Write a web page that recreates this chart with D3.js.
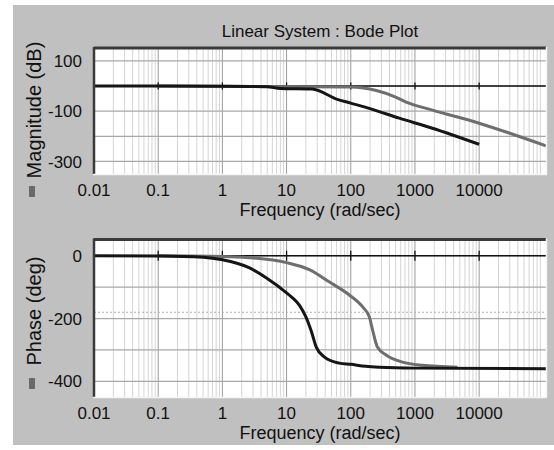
<!DOCTYPE html>
<html>
<head>
<meta charset="utf-8">
<script src="https://cdn.jsdelivr.net/npm/d3@7"></script>
<style>
  body { margin: 0; background: #fff; }
  svg { display: block; font-family: "Liberation Sans", Arial, sans-serif; }
</style>
</head>
<body>
<svg id="bode"></svg>
<script>
// Bode plot: magnitude (dB) and phase (deg) of two linear systems

const width = 554;
const height = 450;

const freqTicks = [0.01, 0.1, 1, 10, 100, 1000, 10000];
const freqTickLabels = ["0.01", "0.1", "1", "10", "100", "1000", "10000"];
const magTicks = [100, -100, -300];
const magGrid = [100, 0, -100, -200, -300];
const phaseTicks = [0, -200, -400];
const phaseGrid = [0, -100, -200, -300, -400];

// black system
const magBlackFreq = [0.01, 1, 5, 8, 25, 60, 100, 200, 570, 1870, 10000];
const magBlack     = [0, -1, -3, -10, -12, -52, -68, -90, -128, -168, -232];
const phaseBlackFreq = [0.01, 0.1, 0.5, 1, 2.6, 4.8, 10, 12.5, 15.8, 20, 24, 29, 39, 66, 100, 170, 280, 1000, 110000];
const phaseBlack     = [0, -1, -5, -13, -38, -70, -118, -135, -157, -195, -237, -291, -323, -342, -346, -352, -355, -358, -360];

// gray system
const magGrayFreq = [0.1, 100, 250, 500, 730, 1870, 10000, 30000, 110000];
const magGray     = [0, -4, -18, -44, -64, -96, -148, -188, -238];
const phaseGrayFreq = [0.1, 1, 2.6, 10, 23, 46, 95, 153, 195, 219, 260, 360, 640, 1300, 4600];
const phaseGray     = [0, -2, -6, -22, -45, -83, -125, -163, -195, -237, -291, -317, -339, -349, -355];

const svg = d3.select("#bode")
    .attr("width", width)
    .attr("height", height);

svg.append("rect")
    .attr("x", 13).attr("y", 5)
    .attr("width", width - 13).attr("height", 440)
    .attr("fill", "#c0c0c0");

svg.append("text")
    .attr("x", 320).attr("y", 37)
    .attr("text-anchor", "middle")
    .attr("font-size", "17px")
    .attr("fill", "#111")
    .text("Linear System : Bode Plot");

const x = d3.scaleLog().domain([0.01, 110000]).range([94, 546]);

const minorTicks = [];
for (let e = -2; e <= 5; e++) {
    for (let k = 2; k <= 9; k++) {
        const v = k * Math.pow(10, e);
        if (v < 110000) minorTicks.push(v);
    }
}

function drawPanel(cfg) {
    const y = d3.scaleLinear().domain(cfg.domain).range([cfg.bottom, cfg.top]);
    const g = svg.append("g");

    g.append("rect")
        .attr("x", 94).attr("y", cfg.top)
        .attr("width", 452).attr("height", cfg.bottom - cfg.top)
        .attr("fill", "#fff");

    g.selectAll(".minor")
        .data(minorTicks)
        .enter().append("line")
        .attr("x1", d => x(d)).attr("x2", d => x(d))
        .attr("y1", cfg.top).attr("y2", cfg.bottom)
        .attr("stroke", "#d4d4d4")
        .attr("stroke-width", 1);

    g.selectAll(".major")
        .data(freqTicks)
        .enter().append("line")
        .attr("x1", d => x(d)).attr("x2", d => x(d))
        .attr("y1", cfg.top).attr("y2", cfg.bottom)
        .attr("stroke", "#9a9a9a")
        .attr("stroke-width", 1);

    g.selectAll(".hgrid")
        .data(cfg.grid)
        .enter().append("line")
        .attr("x1", 94).attr("x2", 546)
        .attr("y1", d => y(d)).attr("y2", d => y(d))
        .attr("stroke", "#a8a8a8")
        .attr("stroke-width", 1.2);

    if (cfg.dotted !== undefined) {
        g.append("line")
            .attr("x1", 94).attr("x2", 546)
            .attr("y1", y(cfg.dotted)).attr("y2", y(cfg.dotted))
            .attr("stroke", "#b0b0b0")
            .attr("stroke-dasharray", "2,2");
    }

    // zero axis line with decade ticks
    g.append("line")
        .attr("x1", 94).attr("x2", 546)
        .attr("y1", y(0)).attr("y2", y(0))
        .attr("stroke", "#111")
        .attr("stroke-width", 1.3);

    g.selectAll(".zt")
        .data(freqTicks)
        .enter().append("line")
        .attr("x1", d => x(d)).attr("x2", d => x(d))
        .attr("y1", y(0) - cfg.tick).attr("y2", y(0) + cfg.tick)
        .attr("stroke", "#111")
        .attr("stroke-width", 1.3);

    const line = d3.line()
        .x(d => x(d[0]))
        .y(d => y(d[1]))
        .curve(d3.curveMonotoneX);

    cfg.series.forEach(s => {
        g.append("path")
            .datum(s.freq.map((f, i) => [f, s.vals[i]]))
            .attr("fill", "none")
            .attr("stroke", s.color)
            .attr("stroke-width", 3)
            .attr("d", line);
    });

    // sunken frame
    g.append("line").attr("x1", 94).attr("x2", 546).attr("y1", cfg.top + 1).attr("y2", cfg.top + 1)
        .attr("stroke", "#3a3a3a").attr("stroke-width", 3);
    g.append("line").attr("x1", 94).attr("x2", 94).attr("y1", cfg.top).attr("y2", cfg.bottom)
        .attr("stroke", "#3a3a3a").attr("stroke-width", 2.5);
    g.append("line").attr("x1", 93).attr("x2", 547).attr("y1", cfg.bottom + 0.5).attr("y2", cfg.bottom + 0.5)
        .attr("stroke", "#f4f4f4").attr("stroke-width", 1.5);
    g.append("line").attr("x1", 546.5).attr("x2", 546.5).attr("y1", cfg.top).attr("y2", cfg.bottom)
        .attr("stroke", "#f4f4f4").attr("stroke-width", 1.5);

    // y tick labels
    g.selectAll(".ylab")
        .data(cfg.ticks)
        .enter().append("text")
        .attr("x", 82).attr("y", d => y(d))
        .attr("dy", "0.36em")
        .attr("text-anchor", "end")
        .attr("font-size", "17px")
        .attr("fill", "#111")
        .text(d => d);

    // x tick labels
    g.selectAll(".xlab")
        .data(freqTicks)
        .enter().append("text")
        .attr("x", d => x(d)).attr("y", cfg.bottom + 22)
        .attr("text-anchor", "middle")
        .attr("font-size", "17px")
        .attr("fill", "#111")
        .text((d, i) => freqTickLabels[i]);

    g.append("text")
        .attr("x", 320).attr("y", cfg.bottom + 42)
        .attr("text-anchor", "middle")
        .attr("font-size", "18px")
        .attr("fill", "#111")
        .text("Frequency (rad/sec)");

    // y axis title with small marker
    g.append("text")
        .attr("transform", `translate(41,${cfg.labelY}) rotate(-90)`)
        .attr("text-anchor", "middle")
        .attr("font-size", "20px")
        .attr("fill", "#111")
        .text(cfg.label);

    g.append("rect")
        .attr("x", 29).attr("y", cfg.markerY)
        .attr("width", 6).attr("height", 11)
        .attr("fill", "#6a6a6a");
}

drawPanel({
    top: 47, bottom: 174,
    domain: [-350, 155],
    grid: magGrid, ticks: magTicks, tick: 3.5,
    label: "Magnitude (dB)", labelY: 110, markerY: 186,
    series: [
        { freq: magGrayFreq, vals: magGray, color: "#6e6e6e" },
        { freq: magBlackFreq, vals: magBlack, color: "#151515" }
    ]
});

drawPanel({
    top: 238.5, bottom: 397,
    domain: [-450, 55],
    grid: phaseGrid, ticks: phaseTicks, tick: 5,
    dotted: -180,
    label: "Phase (deg)", labelY: 311, markerY: 378,
    series: [
        { freq: phaseGrayFreq, vals: phaseGray, color: "#6e6e6e" },
        { freq: phaseBlackFreq, vals: phaseBlack, color: "#151515" }
    ]
});
</script>
</body>
</html>
